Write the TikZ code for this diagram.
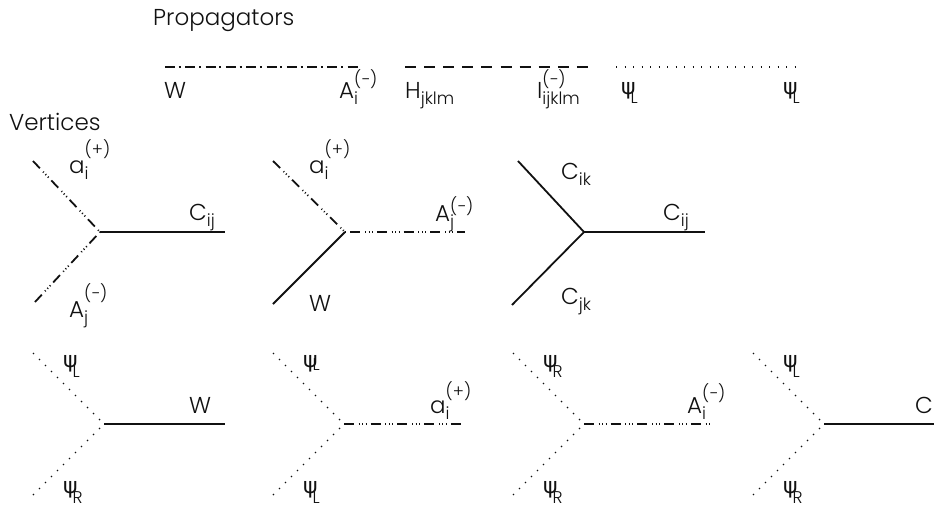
\documentclass[tikz,border=0pt]{standalone}
\usepackage{fontspec}
\setmainfont{Poppins Light}
\newfontfamily\psifont{DejaVu Sans}
\usepackage{tikz}
\definecolor{ink}{HTML}{111111}
% field with lower and upper index
\newcommand{\idxsize}{\fontsize{17}{19}\selectfont}
\newcommand{\fld}[4][12.5pt]{#2\rlap{\raisebox{-6pt}{\idxsize #3}}\raisebox{#1}{\idxsize #4}}
\newcommand{\lowfld}[2]{#1\raisebox{-6pt}{\idxsize #2}}
\newcommand{\psifld}[2][10pt]{{\psifont\fontsize{22}{24}\selectfont ψ}\kern-5pt\raisebox{-#1}{\idxsize #2}}
\tikzset{
  feyn diagram/.style={x=1pt,y=-1pt,font=\fontsize{23}{26}\selectfont,text=ink,line cap=butt},
  lbl/.style={inner sep=0pt,anchor=base west},
  solidline/.style={draw=ink,line width=1.8pt},
  mixline/.style={draw=ink,line width=1.8pt,dash pattern=on 10pt off 4.7pt on 1pt off 2.5pt on 1pt off 2.5pt on 1pt off 4pt},
  dashdotline/.style={draw=ink,line width=1.8pt,dash pattern=on 10pt off 3.7pt on 2pt off 4.6pt},
  dashline/.style={draw=ink,line width=1.8pt,dash pattern=on 11pt off 8.1pt},
  dotline/.style={draw=ink,line width=1.2pt,dash pattern=on 1.3pt off 7.2pt}
}
\begin{document}
\begin{tikzpicture}[feyn diagram]
\useasboundingbox (0,0) rectangle (934,506);
\node[lbl] (proptitle) at (153,25) {Propagators};
\node[lbl] (verttitle) at (9,130) {Vertices};

% propagators
\coordinate (pa1) at (165,67);
\coordinate (pa2) at (358,67);
\coordinate (pb1) at (405,67);
\coordinate (pb2) at (588,67);
\coordinate (pc1) at (616,67);
\coordinate (pc2) at (795,67);
\draw[dashdotline] (pa1) -- (pa2);
\draw[dashline] (pb1) -- (pb2);
\draw[dotline] (pc1) -- (pc2);
\node[lbl] (wp) at (164,98) {W};
\node[lbl] (ap) at (339,98) {\fld{A}{i}{(−)}};
\node[lbl] (hp) at (405,98) {\lowfld{H}{jklm}};
\node[lbl] (ip) at (537,98) {\fld{I}{ijklm}{(−)}};
\node[lbl] (psia) at (621,94) {\psifld[9pt]{L}};
\node[lbl] (psib) at (783,94) {\psifld[9pt]{L}};

% upper row
\coordinate (va) at (100,232);
\coordinate (va1) at (33,161);
\coordinate (va2) at (35,302);
\coordinate (va3) at (225,232);
\draw[mixline] (va1) -- (va);
\draw[mixline] (va2) -- (va);
\draw[solidline] (va) -- (va3);
\node[lbl] (la1) at (69,173) {\fld[18pt]{a}{i}{(+)}};
\node[lbl] (la2) at (69,317) {\fld[18pt]{A}{j}{(−)}};
\node[lbl] (la3) at (189,220) {\lowfld{C}{ij}};

\coordinate (vb) at (345,232);
\coordinate (vb1) at (273,161);
\coordinate (vb2) at (273,304);
\coordinate (vb3) at (465,232);
\draw[mixline] (vb1) -- (vb);
\draw[solidline] (vb2) -- (vb);
\draw[mixline,dash phase=21.4pt] (vb) -- (vb3);
\node[lbl] (lb1) at (309,173) {\fld[18pt]{a}{i}{(+)}};
\node[lbl] (lb2) at (309,311) {W};
\node[lbl] (lb3) at (435,221) {\fld[9pt]{A}{j}{(−)}};

\coordinate (vc) at (584,232);
\coordinate (vc1) at (518,161);
\coordinate (vc2) at (512,305);
\coordinate (vc3) at (705,232);
\draw[solidline] (vc1) -- (vc);
\draw[solidline] (vc2) -- (vc);
\draw[solidline] (vc) -- (vc3);
\node[lbl] (lc1) at (561,179) {\lowfld{C}{ik}};
\node[lbl] (lc2) at (561,304) {\lowfld{C}{jk}};
\node[lbl] (lc3) at (663,220) {\lowfld{C}{ij}};

% lower row
\coordinate (vd) at (104,424);
\coordinate (vd1) at (33,353);
\coordinate (vd2) at (33,495);
\coordinate (vd3) at (225,424);
\draw[dotline] (vd1) -- (vd);
\draw[dotline] (vd2) -- (vd);
\draw[solidline] (vd) -- (vd3);
\node[lbl] (ld1) at (63,367) {\psifld{L}};
\node[lbl] (ld2) at (63,493) {\psifld{R}};
\node[lbl] (ld3) at (189,413) {W};

\coordinate (ve) at (344,424);
\coordinate (ve1) at (273,353);
\coordinate (ve2) at (273,495);
\coordinate (ve3) at (461,424);
\draw[dotline] (ve1) -- (ve);
\draw[dotline] (ve2) -- (ve);
\draw[mixline] (ve) -- (ve3);
\node[lbl] (le1) at (303,367) {\psifld[3pt]{L}};
\node[lbl] (le2) at (303,493) {\psifld{L}};
\node[lbl] (le3) at (430,413) {\fld[16pt]{a}{i}{(+)}};

\coordinate (vf) at (584,424);
\coordinate (vf1) at (513,353);
\coordinate (vf2) at (513,495);
\coordinate (vf3) at (710,424);
\draw[dotline] (vf1) -- (vf);
\draw[dotline] (vf2) -- (vf);
\draw[mixline] (vf) -- (vf3);
\node[lbl] (lf1) at (543,367) {\psifld{R}};
\node[lbl] (lf2) at (543,493) {\psifld{R}};
\node[lbl] (lf3) at (687,413) {\fld[13.5pt]{A}{i}{(−)}};

\coordinate (vg) at (824,424);
\coordinate (vg1) at (753,353);
\coordinate (vg2) at (753,495);
\coordinate (vg3) at (934,424);
\draw[dotline] (vg1) -- (vg);
\draw[dotline] (vg2) -- (vg);
\draw[solidline] (vg) -- (vg3);
\node[lbl] (lg1) at (783,367) {\psifld{L}};
\node[lbl] (lg2) at (783,493) {\psifld{R}};
\node[lbl] (lg3) at (915,413) {C};
\end{tikzpicture}
\end{document}
